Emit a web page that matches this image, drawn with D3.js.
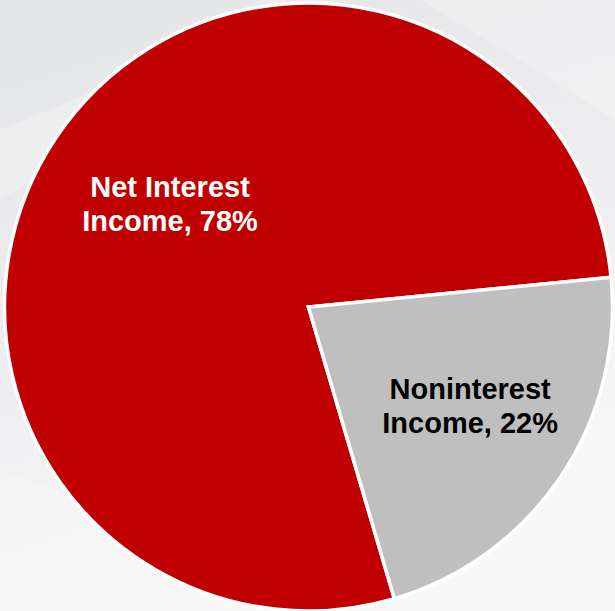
<!DOCTYPE html>
<html>
<head>
<meta charset="utf-8">
<script src="https://cdn.jsdelivr.net/npm/d3@7"></script>
<style>
  html, body { margin: 0; padding: 0; background: #f2f2f3; }
  svg { display: block; }
</style>
</head>
<body>
<svg id="chart" width="615" height="611"></svg>
<script>
// Revenue mix
const categories = ["Net Interest", "Noninterest"];
const labelLines = [["Net Interest", "Income, 78%"], ["Noninterest", "Income, 22%"]];
const shares = [78, 22];
const sliceColors = ["#C00000", "#BFBFBF"];
const labelColors = ["#FFFFFF", "#000000"];

const W = 615, H = 611;
const cx = 308.5, cy = 307, R = 304;
const startDeg = 163.6;

const svg = d3.select("#chart");

// soft slide-style backdrop
const defs = svg.append("defs");
const bg = defs.append("linearGradient").attr("id", "bg")
  .attr("x1", 0).attr("y1", 0).attr("x2", 0.35).attr("y2", 1);
bg.append("stop").attr("offset", 0).attr("stop-color", "#e4e5e7");
bg.append("stop").attr("offset", 0.55).attr("stop-color", "#eeeef0");
bg.append("stop").attr("offset", 1).attr("stop-color", "#f8f8f9");
svg.append("rect").attr("width", W).attr("height", H).attr("fill", "url(#bg)");

// faint diagonal light bands
const bands = [
  [[0, 130], [170, 60], [260, 0], [330, 0], [0, 200]],
  [[0, 470], [140, 520], [260, 611], [0, 611]],
  [[420, 0], [615, 0], [615, 120], [520, 60]]
];
svg.append("g").selectAll("path").data(bands).join("path")
  .attr("d", d => d3.line()(d) + "Z")
  .attr("fill", "#ffffff").attr("opacity", 0.22);

const pie = d3.pie().sort(null).value(d => d)
  .startAngle(startDeg * Math.PI / 180)
  .endAngle(startDeg * Math.PI / 180 + 2 * Math.PI);
const arcs = pie(shares);
const arc = d3.arc().innerRadius(0).outerRadius(R);

const g = svg.append("g").attr("transform", `translate(${cx},${cy})`);

g.selectAll("path.slice").data(arcs).join("path")
  .attr("class", "slice")
  .attr("d", arc)
  .attr("fill", (d, i) => sliceColors[i])
  .attr("stroke", "#ffffff")
  .attr("stroke-width", 3.5)
  .attr("stroke-linejoin", "miter");

// labels sit along each slice's mid-angle
const labelRadius = [167, 195];
const lineH = 34;
arcs.forEach((d, i) => {
  const a = (d.startAngle + d.endAngle) / 2;
  const lx = Math.sin(a) * labelRadius[i];
  const ly = -Math.cos(a) * labelRadius[i];
  const t = g.append("text")
    .attr("text-anchor", "middle")
    .attr("font-family", "Liberation Sans, Arial, sans-serif")
    .attr("font-weight", "bold")
    .attr("font-size", 29)
    .attr("fill", labelColors[i]);
  labelLines[i].forEach((line, k) => {
    t.append("tspan")
      .attr("x", lx)
      .attr("y", ly + (k - 0.5) * lineH)
      .text(line);
  });
});
</script>
</body>
</html>
